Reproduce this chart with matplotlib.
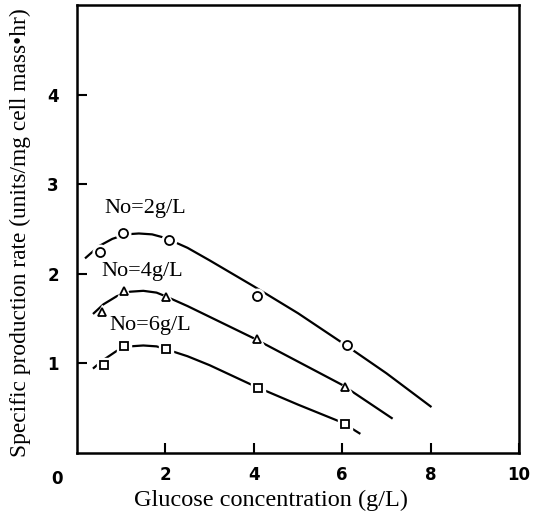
import matplotlib

matplotlib.use("Agg")
import matplotlib.pyplot as plt  # noqa: E402

# Measured points (glucose g/L, specific production rate)
glc_2 = [0.53, 1.03, 2.09, 4.08, 6.10]
rate_2 = [2.24, 2.46, 2.38, 1.75, 1.21]
glc_4 = [0.57, 1.07, 2.02, 4.08, 6.07]
rate_4 = [1.57, 1.81, 1.74, 1.27, 0.74]
glc_6 = [0.61, 1.07, 2.02, 4.10, 6.07]
rate_6 = [0.98, 1.19, 1.16, 0.73, 0.32]

# Hand-drawn fitted curves
curve_x_2 = [0.20, 0.50, 0.80, 1.10, 1.40, 1.70, 2.00, 2.50, 3.00, 4.00, 5.00, 6.00, 7.00, 8.00]
curve_y_2 = [2.18, 2.31, 2.39, 2.44, 2.45, 2.44, 2.40, 2.29, 2.15, 1.86, 1.56, 1.23, 0.89, 0.52]
curve_x_4 = [0.38, 0.60, 0.90, 1.20, 1.50, 1.80, 2.00, 2.50, 3.00, 4.00, 5.00, 6.00, 7.12]
curve_y_4 = [1.56, 1.66, 1.75, 1.80, 1.81, 1.79, 1.75, 1.64, 1.52, 1.28, 1.02, 0.76, 0.39]
curve_x_6 = [0.38, 0.60, 0.90, 1.20, 1.50, 1.80, 2.00, 2.50, 3.00, 4.00, 5.00, 6.00, 6.39]
curve_y_6 = [0.95, 1.04, 1.14, 1.19, 1.20, 1.19, 1.16, 1.08, 0.98, 0.75, 0.54, 0.34, 0.22]

labels = ["No=2g/L", "No=4g/L", "No=6g/L"]
label_pos = [(0.62, 2.73), (0.55, 2.03), (0.74, 1.42)]

x_ticks = [2, 4, 6, 8, 10]
y_ticks = [1, 2, 3, 4]

SERIF = ["Liberation Serif", "DejaVu Serif"]
NUM = ["DejaVu Sans"]

fig = plt.figure(figsize=(5.36, 5.14), dpi=100)
ax = fig.add_axes([77 / 536, 61 / 514, 442 / 536, 448 / 514])

series = [
    (curve_x_2, curve_y_2, glc_2, rate_2, "o", 6.5),
    (curve_x_4, curve_y_4, glc_4, rate_4, "^", 5.5),
    (curve_x_6, curve_y_6, glc_6, rate_6, "s", 5.5),
]
for cx, cy, px, py, m, ms in series:
    ax.plot(cx, cy, color="black", lw=1.6, zorder=2)
    # white halo so the curve breaks around each point, as in the print
    ax.plot(px, py, ls="none", marker=m, ms=ms + 4, mfc="white", mec="white", zorder=3)
    ax.plot(px, py, ls="none", marker=m, ms=ms, mfc="white", mec="black", mew=1.3, zorder=4)

for text, (tx, ty) in zip(labels, label_pos):
    ax.text(tx, ty, text, family=SERIF, fontsize=16, ha="left", va="center")

ax.set_xlim(0, 10)
ax.set_ylim(0, 5)
ax.set_xticks(x_ticks)
ax.set_yticks(y_ticks)
ax.set_xticklabels([str(t) for t in x_ticks], family=NUM, fontweight="bold", fontsize=12)
ax.set_yticklabels([str(t) for t in y_ticks], family=NUM, fontweight="bold", fontsize=12)
ax.tick_params(direction="in", length=7, width=1.5, pad=9)
ax.tick_params(axis="y", pad=13)
ax.text(-0.045, -0.038, "0", transform=ax.transAxes, family=NUM, fontweight="bold",
        fontsize=12, ha="center", va="top")

for s in ax.spines.values():
    s.set_linewidth(1.8)

ax.set_xlabel("Glucose concentration (g/L)", family=SERIF, fontsize=17.5)
ax.xaxis.set_label_coords(0.44, -0.083)
fig.text(20 / 536, 1 - 233 / 514, "Specific production rate (units/mg cell mass\u2022hr)",
         family=SERIF, fontsize=16.8, rotation=90, ha="center", va="center")

fig.savefig("out.png", dpi=100)
